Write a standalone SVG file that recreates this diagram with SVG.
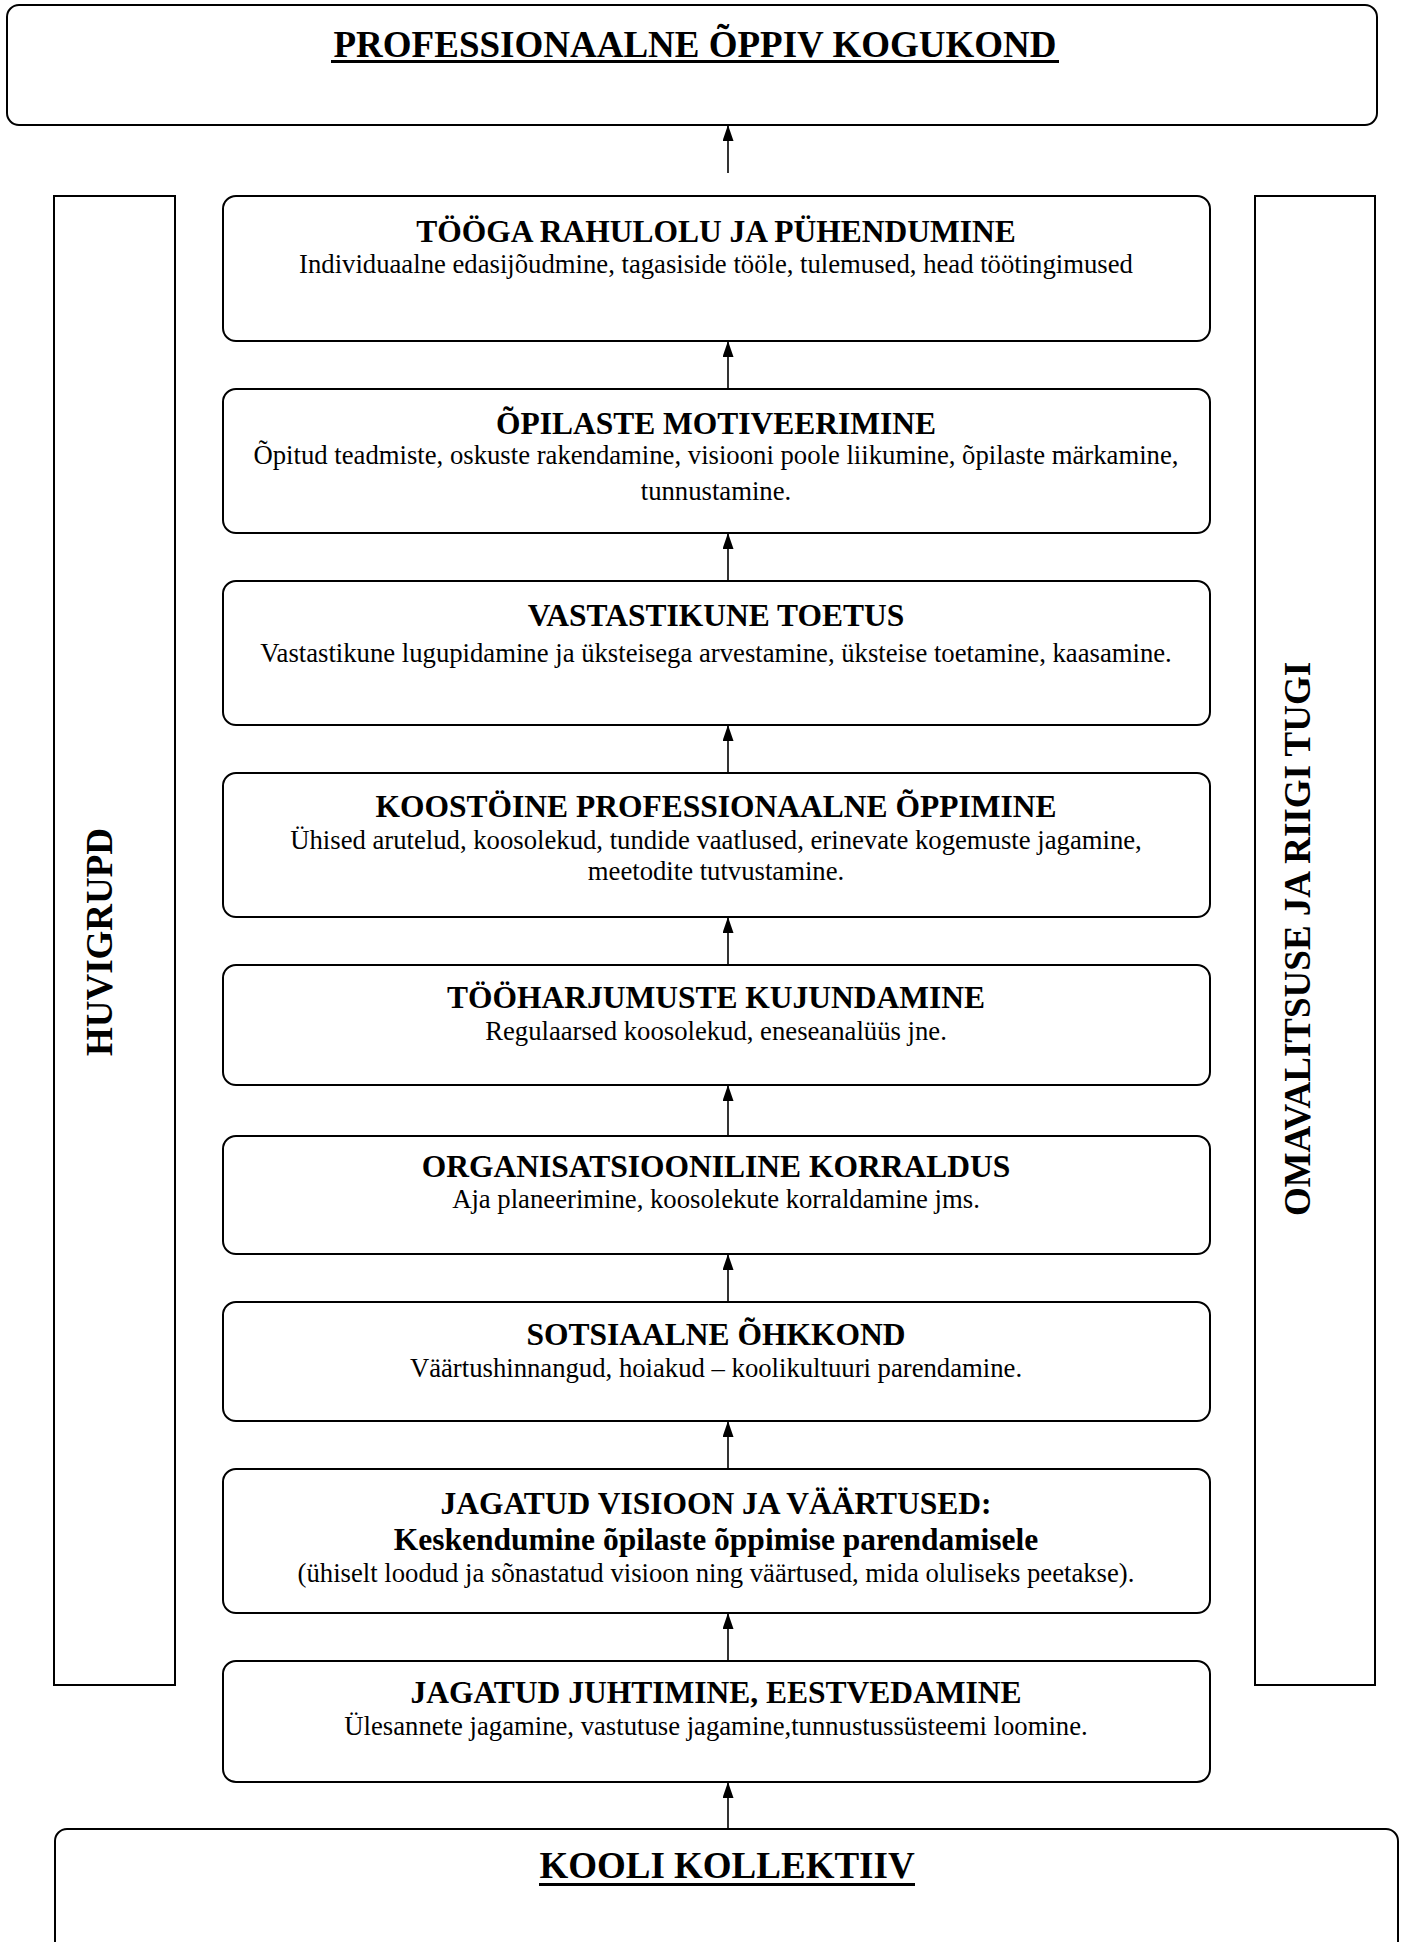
<svg xmlns="http://www.w3.org/2000/svg" width="1406" height="1942" viewBox="0 0 1406 1942">
<defs>
<style>
.box{fill:#fff;stroke:#000;stroke-width:2}
.t{font-family:"Liberation Serif","Times New Roman",serif;fill:#000;text-anchor:middle}
.h{font-size:31.5px;font-weight:bold}
.s{font-size:26.7px}
.big{font-size:37px;font-weight:bold}
.ul{fill:#000}
.con line{stroke:#000;stroke-width:1.6;marker-end:url(#ah)}
</style>
<marker id="ah" viewBox="0 0 10 10" refX="10" refY="5" markerUnits="userSpaceOnUse" markerWidth="16" markerHeight="11" orient="auto" preserveAspectRatio="none">
<path d="M0,0 L10,5 L0,10 z" fill="#000"/>
</marker>
</defs>
<rect width="1406" height="1942" fill="#fff"/>

<g id="top">
<rect class="box" x="7" y="5" width="1370" height="120" rx="12"/>
<text class="t big" x="695" y="57">PROFESSIONAALNE ÕPPIV KOGUKOND</text>
<rect class="ul" x="331" y="60" width="728" height="3"/>
</g>

<g id="huvigrupd">
<rect class="box" x="54" y="196" width="121" height="1489"/>
<text class="t big" transform="translate(112,942) rotate(-90)">HUVIGRUPD</text>
</g>

<g id="omavalitsus">
<rect class="box" x="1255" y="196" width="120" height="1489"/>
<text class="t big" transform="translate(1310,939) rotate(-90)">OMAVALITSUSE JA RIIGI TUGI</text>
</g>

<g id="n1">
<rect class="box" x="223" y="196" width="987" height="145" rx="13"/>
<text class="t h" x="716" y="241.5">TÖÖGA RAHULOLU JA PÜHENDUMINE</text>
<text class="t s" x="716" y="273">Individuaalne edasijõudmine, tagasiside tööle, tulemused, head töötingimused</text>
</g>

<g id="n2">
<rect class="box" x="223" y="389" width="987" height="144" rx="13"/>
<text class="t h" x="716" y="433.5">ÕPILASTE MOTIVEERIMINE</text>
<text class="t s" x="716" y="463.5">Õpitud teadmiste, oskuste rakendamine, visiooni poole liikumine, õpilaste märkamine,</text>
<text class="t s" x="716" y="500">tunnustamine.</text>
</g>

<g id="n3">
<rect class="box" x="223" y="581" width="987" height="144" rx="13"/>
<text class="t h" x="716" y="626">VASTASTIKUNE TOETUS</text>
<text class="t s" x="716" y="662">Vastastikune lugupidamine ja üksteisega arvestamine, üksteise toetamine, kaasamine.</text>
</g>

<g id="n4">
<rect class="box" x="223" y="773" width="987" height="144" rx="13"/>
<text class="t h" x="716" y="817">KOOSTÖINE PROFESSIONAALNE ÕPPIMINE</text>
<text class="t s" x="716" y="849">Ühised arutelud, koosolekud, tundide vaatlused, erinevate kogemuste jagamine,</text>
<text class="t s" x="716" y="880">meetodite tutvustamine.</text>
</g>

<g id="n5">
<rect class="box" x="223" y="965" width="987" height="120" rx="13"/>
<text class="t h" x="716" y="1008">TÖÖHARJUMUSTE KUJUNDAMINE</text>
<text class="t s" x="716" y="1040">Regulaarsed koosolekud, eneseanalüüs jne.</text>
</g>

<g id="n6">
<rect class="box" x="223" y="1136" width="987" height="118" rx="13"/>
<text class="t h" x="716" y="1177">ORGANISATSIOONILINE KORRALDUS</text>
<text class="t s" x="716" y="1208">Aja planeerimine, koosolekute korraldamine jms.</text>
</g>

<g id="n7">
<rect class="box" x="223" y="1302" width="987" height="119" rx="13"/>
<text class="t h" x="716" y="1345">SOTSIAALNE ÕHKKOND</text>
<text class="t s" x="716" y="1377">Väärtushinnangud, hoiakud – koolikultuuri parendamine.</text>
</g>

<g id="n8">
<rect class="box" x="223" y="1469" width="987" height="144" rx="13"/>
<text class="t h" x="716" y="1514">JAGATUD VISIOON JA VÄÄRTUSED:</text>
<text class="t h" x="716" y="1550">Keskendumine õpilaste õppimise parendamisele</text>
<text class="t s" x="716" y="1582">(ühiselt loodud ja sõnastatud visioon ning väärtused, mida oluliseks peetakse).</text>
</g>

<g id="n9">
<rect class="box" x="223" y="1661" width="987" height="121" rx="13"/>
<text class="t h" x="716" y="1703">JAGATUD JUHTIMINE, EESTVEDAMINE</text>
<text class="t s" x="716" y="1735">Ülesannete jagamine, vastutuse jagamine,tunnustussüsteemi loomine.</text>
</g>

<g id="bottom">
<rect class="box" x="55" y="1829" width="1343" height="140" rx="12"/>
<text class="t big" x="727" y="1878">KOOLI KOLLEKTIIV</text>
<rect class="ul" x="539" y="1883" width="376" height="3"/>
</g>

<g class="con" id="connectors">
<line x1="728" y1="173" x2="728" y2="125"/>
<line x1="728" y1="389" x2="728" y2="341"/>
<line x1="728" y1="581" x2="728" y2="533"/>
<line x1="728" y1="773" x2="728" y2="725"/>
<line x1="728" y1="965" x2="728" y2="917"/>
<line x1="728" y1="1136" x2="728" y2="1085"/>
<line x1="728" y1="1302" x2="728" y2="1254"/>
<line x1="728" y1="1469" x2="728" y2="1421"/>
<line x1="728" y1="1661" x2="728" y2="1613"/>
<line x1="728" y1="1829" x2="728" y2="1782"/>
</g>
</svg>
